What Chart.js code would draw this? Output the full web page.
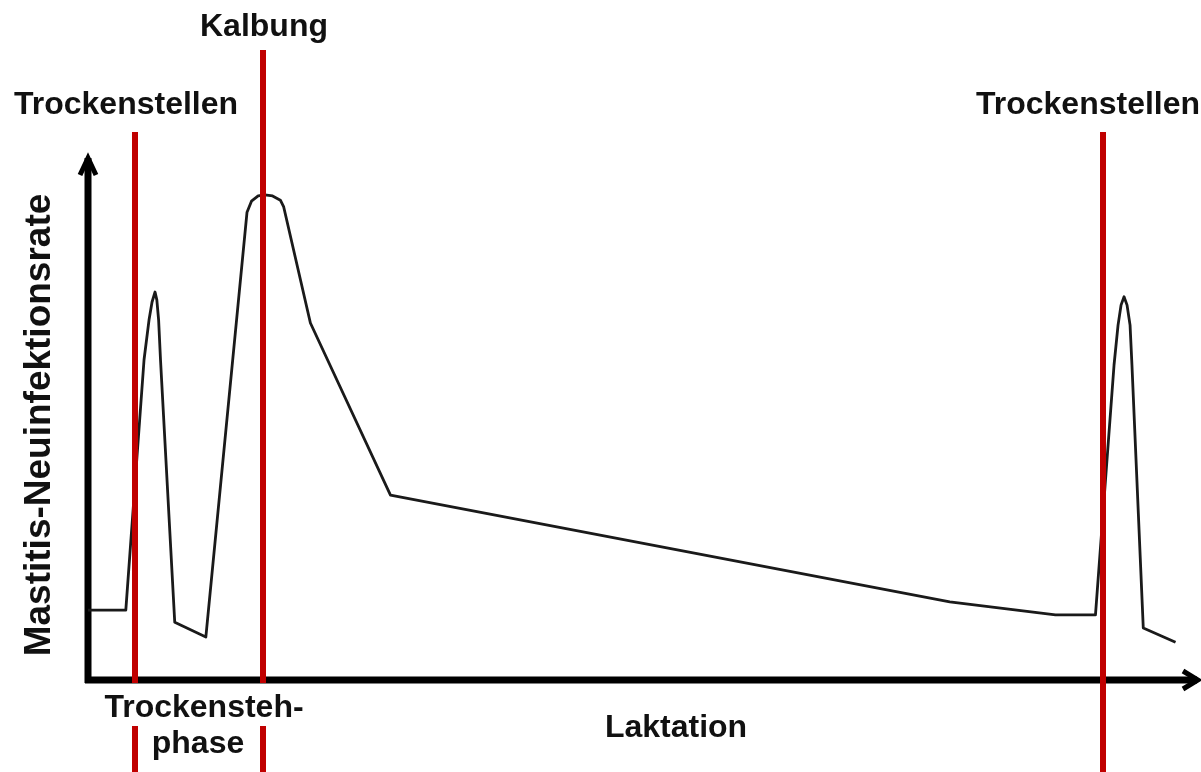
<!DOCTYPE html>
<html>
<head>
<meta charset="utf-8">
<script src="https://cdn.jsdelivr.net/npm/chart.js@4"></script>
<style>
  body { margin: 0; background: #fff; }
  canvas { display: block; }
</style>
</head>
<body>
<canvas id="chart" width="1201" height="772"></canvas>
<script>
// schematic: time (0-100) vs. new infection rate (0-100)
const timeX = [0, 3.4, 5.04, 5.49, 5.76, 6.03, 6.19, 6.35, 6.52, 7.8, 10.6, 14.3, 14.7, 15.3, 15.9, 16.6, 17.3, 17.6, 20.0, 27.2, 77.5, 87.0, 90.6, 92.27, 92.63, 92.9, 93.17, 93.44, 93.71, 93.88, 94.9, 97.8];
const infectionRate = [13.3, 13.3, 61.0, 68.6, 72.0, 73.9, 72.4, 68.6, 61.0, 11.0, 8.2, 89.1, 91.2, 92.2, 92.4, 92.2, 91.4, 90.1, 68.0, 35.2, 14.9, 12.4, 12.4, 60.0, 67.6, 71.4, 73.0, 71.4, 67.6, 60.0, 9.9, 7.2];

// red event markers
const eventNames = ['Trockenstellen', 'Kalbung', 'Trockenstellen'];
const eventX = [4.2, 15.7, 91.3];

const yTitle = 'Mastitis-Neuinfektionsrate';
const xTitle = 'Laktation';
const phaseLabel = ['Trockensteh-', 'phase'];

const FONT = 'bold 32px "Liberation Sans", Arial, sans-serif';

const schemePlugin = {
    id: 'scheme',
    beforeDatasetsDraw(chart) {
        const { ctx, chartArea } = chart;
        const x0 = chartArea.left, y0 = chartArea.bottom;
        ctx.save();
        ctx.strokeStyle = '#000';
        ctx.lineWidth = 7;
        ctx.lineCap = 'butt';
        // axes
        ctx.beginPath();
        ctx.moveTo(x0, y0 + 3);
        ctx.lineTo(x0, chartArea.top + 3);
        ctx.moveTo(x0 - 3, y0);
        ctx.lineTo(chartArea.right - 3, y0);
        ctx.stroke();
        // arrow heads
        ctx.lineWidth = 5;
        ctx.lineJoin = 'miter';
        ctx.beginPath();
        ctx.moveTo(x0 - 8, chartArea.top + 20);
        ctx.lineTo(x0, chartArea.top + 3);
        ctx.lineTo(x0 + 8, chartArea.top + 20);
        ctx.moveTo(chartArea.right - 17, y0 - 9);
        ctx.lineTo(chartArea.right - 2, y0);
        ctx.lineTo(chartArea.right - 17, y0 + 9);
        ctx.stroke();
        ctx.restore();
    },
    afterDatasetsDraw(chart) {
        const { ctx, chartArea, scales } = chart;
        const H = chart.height;
        ctx.save();
        ctx.strokeStyle = '#c00000';
        ctx.lineWidth = 6;
        const tops = [132, 50, 132];
        eventX.forEach((v, i) => {
            const px = Math.round(scales.x.getPixelForValue(v));
            ctx.beginPath();
            if (i < 2) {
                ctx.moveTo(px, tops[i]);
                ctx.lineTo(px, chartArea.bottom + 3);
                ctx.moveTo(px, 726);
                ctx.lineTo(px, H);
            } else {
                ctx.moveTo(px, tops[i]);
                ctx.lineTo(px, H);
            }
            ctx.stroke();
        });

        ctx.fillStyle = '#111';
        ctx.font = FONT;
        ctx.textAlign = 'center';
        ctx.textBaseline = 'middle';
        ctx.fillText(eventNames[0], 126, 105);
        ctx.fillText(eventNames[1], 264, 27);
        ctx.fillText(eventNames[2], 1088, 105);
        ctx.fillText(phaseLabel[0], 204, 708);
        ctx.fillText(phaseLabel[1], 198, 744);
        ctx.fillText(xTitle, 676, 728);

        ctx.save();
        ctx.translate(40, 425);
        ctx.rotate(-Math.PI / 2);
        ctx.font = 'bold 37px "Liberation Sans", Arial, sans-serif';
        ctx.fillText(yTitle, 0, 0);
        ctx.restore();
        ctx.restore();
    }
};

new Chart(document.getElementById('chart').getContext('2d'), {
    type: 'line',
    data: {
        datasets: [{
            data: timeX.map((x, i) => ({ x: x, y: infectionRate[i] })),
            borderColor: '#1a1a1a',
            borderWidth: 2.8,
            borderJoinStyle: 'round',
            pointRadius: 0,
            tension: 0,
            fill: false
        }]
    },
    options: {
        responsive: false,
        animation: false,
        devicePixelRatio: 1,
        layout: {
            padding: { left: 88, right: 1, top: 155, bottom: 92 }
        },
        scales: {
            x: { type: 'linear', min: 0, max: 100, display: false },
            y: { min: 0, max: 100, display: false }
        },
        plugins: {
            legend: { display: false },
            tooltip: { enabled: false }
        }
    },
    plugins: [schemePlugin]
});
</script>
</body>
</html>
